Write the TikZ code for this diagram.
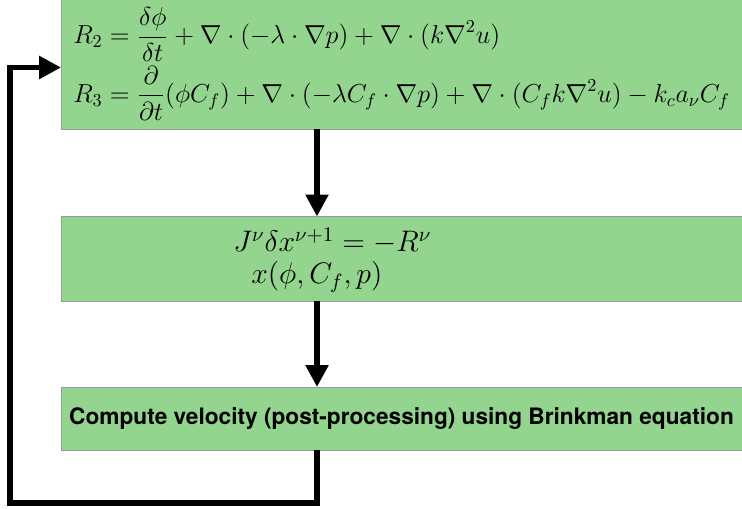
\RequirePackage{fix-cm}
\documentclass[tikz,border=0pt]{standalone}
\usepackage{amsmath}
\usepackage{fontspec}
\setsansfont{TeX Gyre Heros}
\usetikzlibrary{arrows.meta}
\definecolor{boxgreen}{RGB}{147,213,142}
\tikzset{
  stage/.style={rectangle, fill=boxgreen, draw=gray!80, line width=0.4pt,
    minimum width=13.62cm, inner sep=0pt, outer sep=0pt},
  flow/.style={line width=0.11cm, -{Triangle[length=0.44cm,width=0.44cm]}}
}
\begin{document}
\begin{tikzpicture}[x=0.02cm, y=-0.02cm]
\useasboundingbox (0,0) rectangle (742,509);
\coordinate (mid) at (317,0);
\coordinate (back) at (10,503);
\node[stage, minimum height=2.6cm] (resid) at (401.5,64.5) {};
\node[anchor=west, align=left, font=\fontsize{14.8}{18}\selectfont, inner sep=0pt] (residtxt) at (73,64)
  {$\displaystyle R_2 = \frac{\delta\phi}{\delta t} + \nabla\cdot(-\lambda\cdot\nabla p) + \nabla\cdot(k\nabla^2 u)$\\[2pt]
   $\displaystyle R_3 = \frac{\partial}{\partial t}(\phi C_f) + \nabla\cdot(-\lambda C_f\cdot\nabla p) + \nabla\cdot(C_f k\nabla^2 u) - k_c a_\nu C_f$};
\node[stage, minimum height=1.7cm] (solve) at (401.5,259) {};
\node[anchor=west, align=left, font=\fontsize{16.9}{18.2}\selectfont, inner sep=0pt] (solvetxt) at (233,260)
  {$J^\nu\delta x^{\nu+1} = -R^\nu$\\
   \hspace*{0.36cm}$x(\phi, C_f, p)$};
\node[stage, minimum height=1.26cm, font=\fontsize{12.9}{15}\sffamily\bfseries] (velo) at (401.5,418.5)
  {Compute velocity (post-processing) using Brinkman equation};
\draw[flow] (resid.south -| mid) -- (solve.north -| mid);
\draw[flow] (solve.south -| mid) -- (velo.north -| mid);
\draw[flow] (velo.south -| mid) |- (back) |- ([yshift=-0.06cm]resid.west);
\end{tikzpicture}
\end{document}
